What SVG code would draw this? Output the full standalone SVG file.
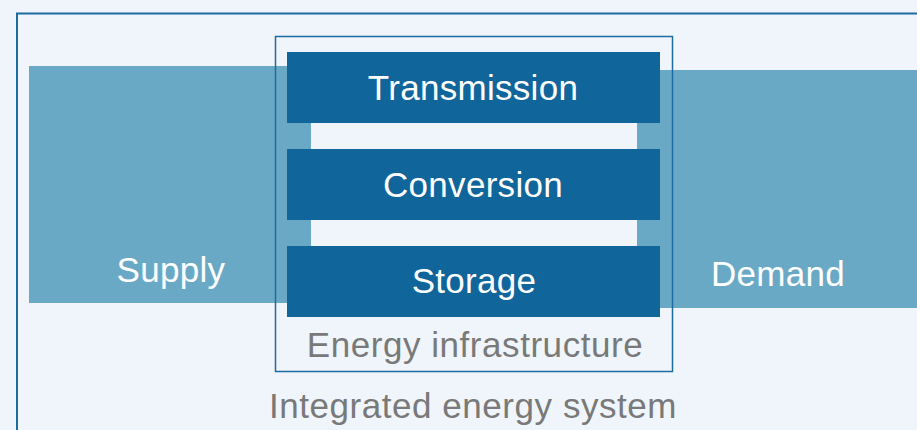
<svg xmlns="http://www.w3.org/2000/svg" width="917" height="430" viewBox="0 0 917 430">
  <style>
    .band { fill: #6aa9c6; }
    .box { fill: #10659a; }
    .frame { fill: none; stroke: #1c6ba3; }
    .w { fill: #ffffff; font-family: "Liberation Sans", Arial, sans-serif; font-size: 35px; letter-spacing: 0.3px; text-anchor: middle; }
    .g { fill: #797979; font-family: "Liberation Sans", Arial, sans-serif; font-size: 35px; letter-spacing: 0.55px; text-anchor: middle; }
  </style>
  <rect x="0" y="0" width="917" height="430" fill="#eff5fa"/>
  <g id="integrated-energy-system">
    <rect class="frame" x="17" y="13.5" width="920" height="440" stroke-width="2"/>
    <text class="g" x="473" y="418">Integrated energy system</text>
  </g>
  <g id="supply">
    <rect class="band" x="29" y="66" width="282" height="237"/>
    <text class="w" x="171" y="282">Supply</text>
  </g>
  <g id="demand">
    <rect class="band" x="637" y="70" width="280" height="238"/>
    <text class="w" x="778" y="286">Demand</text>
  </g>
  <g id="energy-infrastructure">
    <rect class="frame" x="275.5" y="36.5" width="397" height="335" stroke-width="1.5"/>
    <text class="g" x="475" y="357">Energy infrastructure</text>
  </g>
  <g id="transmission">
    <rect class="box" x="287" y="52" width="373" height="71"/>
    <text class="w" x="473" y="100">Transmission</text>
  </g>
  <g id="conversion">
    <rect class="box" x="287" y="149" width="373" height="71"/>
    <text class="w" x="473" y="197">Conversion</text>
  </g>
  <g id="storage">
    <rect class="box" x="287" y="246" width="373" height="71"/>
    <text class="w" x="474" y="293">Storage</text>
  </g>
</svg>
